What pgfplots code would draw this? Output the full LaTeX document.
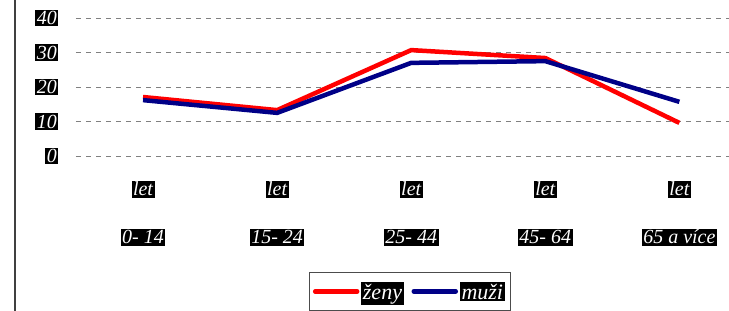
\documentclass[border=0pt]{standalone}
\usepackage{fontspec}
\setmainfont{Liberation Serif}
\usepackage{pgfplots}
\pgfplotsset{compat=1.18}
\definecolor{myred}{RGB}{255,0,0}
\definecolor{myblue}{RGB}{0,0,135}
\newcommand\blk[1]{{\setlength{\fboxsep}{1.5pt}\colorbox{black}{\textcolor{white}{\itshape #1}}}}
\begin{document}
\begin{tikzpicture}
\begin{axis}[
  at={(76bp,-156bp)}, anchor=south west,
  scale only axis, width=657bp, height=138bp,
  xmin=-0.5, xmax=4.4, ymin=0, ymax=40,
  ytick={0,10,20,30,40},
  xtick={0,1,2,3,4},
  xticklabels={{\blk{let}\\[24bp]\blk{0- 14}},{\blk{let}\\[24bp]\blk{15- 24}},{\blk{let}\\[24bp]\blk{25- 44}},{\blk{let}\\[24bp]\blk{45- 64}},{\blk{let}\\[24bp]\blk{65 a více}}},
  xticklabel style={align=center, font=\fontsize{20bp}{24bp}\selectfont, yshift=-21bp},
  yticklabel={\blk{\pgfmathprintnumber{\tick}}},
  yticklabel style={font=\fontsize{20bp}{24bp}\selectfont, xshift=-14bp},
  /pgf/number format/assume math mode=true,
  axis line style={draw=none},
  major tick style={draw=none},
  ymajorgrids,
  major grid style={gray, dashed, line width=0.6pt, dash pattern=on 5bp off 5bp},
  clip=false,
  legend columns=2,
  legend style={at={(0.508,-0.84)}, anchor=north, draw=black!70, line width=0.8pt,
    font=\fontsize{22bp}{26bp}\selectfont, inner ysep=8bp, inner xsep=4bp,
    /tikz/every even column/.append style={column sep=6bp}},
  legend image code/.code={\draw[#1, line width=4.5bp, line cap=round] (0bp,0bp) -- (42bp,0bp);},
]
\addplot[myred, line width=4.5bp] coordinates {(0,17.1) (1,13.3) (2,30.7) (3,28.4) (4,9.6)};
\addlegendentry{\blk{ženy}}
\addplot[myblue, line width=4.5bp] coordinates {(0,16.2) (1,12.5) (2,27.0) (3,27.5) (4,15.7)};
\addlegendentry{\blk{muži}}
\end{axis}
\draw[black!75, line width=1.5bp] (15bp,0bp) -- (15bp,-311bp);
\pgfresetboundingbox
\path[use as bounding box] (0bp,0bp) rectangle (729bp,-311bp);
\end{tikzpicture}
\end{document}
